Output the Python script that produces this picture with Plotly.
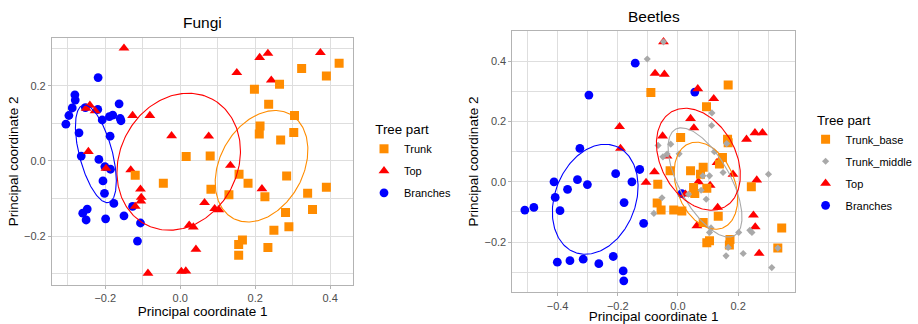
import numpy as np
import plotly.graph_objects as go

# ---------------- Fungi data ----------------
fungi_trunk_x = [0.016, 0.080, -0.120, -0.045, 0.082, 0.157, 0.181, 0.130, 0.226, 0.284, 0.340, 0.390,
                 0.353, 0.281, 0.290, 0.250, 0.166, 0.156, 0.156, 0.234, 0.213, 0.211, 0.268, 0.303,
                 0.305, 0.236, 0.198, 0.265, 0.324, 0.390, 0.424]
fungi_trunk_y = [0.012, 0.013, -0.038, -0.059, -0.075, -0.035, -0.059, -0.090, -0.095, -0.040, -0.086, -0.070,
                 -0.129, -0.137, -0.175, -0.184, -0.210, -0.222, -0.251, -0.230, 0.093, 0.072, 0.056, 0.076,
                 0.121, 0.151, 0.191, 0.204, 0.246, 0.226, 0.260]

fungi_top_x = [-0.150, -0.251, -0.241, -0.227, -0.245, -0.198, -0.127, -0.081, -0.023, 0.076, -0.132,
               -0.106, -0.104, -0.105, -0.120, 0.065, 0.092, 0.103, 0.024, 0.035, 0.042, -0.086, 0.003,
               0.015, 0.134, 0.218, 0.151, 0.212, 0.234, 0.243, 0.374]
fungi_top_y = [0.300, 0.140, 0.148, 0.133, 0.025, -0.020, 0.121, 0.121, 0.067, 0.066, -0.024,
               -0.075, -0.097, -0.107, -0.121, -0.111, -0.127, -0.130, -0.171, -0.176, -0.235, -0.299, -0.294,
               -0.293, -0.012, -0.074, 0.235, 0.275, 0.286, 0.215, 0.288]

fungi_branches_x = [-0.219, -0.281, -0.280, -0.288, -0.297, -0.305, -0.270, -0.264, -0.217, -0.253, -0.220,
                    -0.208, -0.189, -0.180, -0.163, -0.160, -0.158, -0.187, -0.201, -0.186, -0.206, -0.202,
                    -0.177, -0.248, -0.260, -0.251, -0.199, -0.150, -0.127, -0.106, -0.114]
fungi_branches_y = [0.222, 0.176, 0.162, 0.141, 0.121, 0.098, 0.075, 0.013, 0.004, 0.142, 0.137,
                    0.109, 0.118, 0.122, 0.152, 0.113, 0.107, 0.066, -0.015, -0.022, -0.053, -0.086,
                    -0.113, -0.128, -0.139, -0.157, -0.154, -0.146, -0.121, -0.165, -0.213]

# ---------------- Beetles data ----------------
beetles_base_x = [0.167, -0.090, 0.095, 0.009, 0.165, 0.167, -0.026, 0.042, 0.084, 0.075, 0.148, 0.138,
                  -0.067, 0.052, 0.056, 0.096, -0.069, -0.056, -0.014, 0.013, 0.134, 0.084, 0.173, 0.171,
                  0.096, 0.105, 0.244, 0.345, 0.332]
beetles_base_y = [0.322, 0.297, 0.249, 0.147, 0.141, 0.130, 0.037, 0.037, 0.048, 0.025, 0.081, 0.059,
                  -0.008, -0.019, -0.039, -0.021, -0.070, -0.094, -0.094, -0.097, -0.114, -0.135, -0.192, -0.210,
                  -0.202, -0.196, -0.016, -0.153, -0.220]

beetles_middle_x = [-0.048, -0.102, 0.113, 0.112, -0.066, -0.024, -0.050, -0.036, 0.004, 0.121, 0.162,
                    0.150, 0.083, 0.105, 0.077, 0.094, 0.035, -0.053, -0.080, 0.110, 0.105, 0.202, 0.239,
                    0.246, 0.301, 0.167, 0.160, 0.217, 0.312, 0.332]
beetles_middle_y = [0.465, 0.408, 0.229, 0.187, 0.121, 0.125, 0.083, 0.092, 0.093, 0.100, 0.127,
                    0.031, 0.020, 0.020, -0.028, -0.058, -0.041, -0.053, -0.105, -0.153, -0.168, -0.168, -0.161,
                    -0.168, 0.025, -0.218, -0.246, -0.238, -0.285, -0.220]

beetles_top_x = [-0.048, -0.076, -0.045, 0.066, 0.119, -0.194, -0.191, 0.042, 0.053, -0.051, -0.078,
                 -0.106, -0.036, 0.025, 0.068, 0.107, 0.132, 0.063, 0.251, 0.257, 0.262, 0.270, 0.228,
                 0.256, 0.281, 0.183, 0.130]
beetles_top_y = [0.465, 0.360, 0.357, 0.309, 0.276, 0.183, 0.111, 0.210, 0.179, 0.152, 0.033,
                 -0.002, 0.085, -0.041, 0.000, -0.012, -0.085, -0.146, -0.111, -0.150, 0.006, -0.238, 0.141,
                 0.163, 0.163, 0.025, 0.064]

beetles_branches_x = [-0.142, -0.296, 0.056, -0.326, -0.412, -0.408, -0.392, -0.509, -0.479, -0.367, -0.334,
                      -0.301, -0.207, -0.153, -0.127, -0.179, -0.114, -0.401, -0.359, -0.315, -0.263, -0.215,
                      -0.182, -0.180, 0.013]
beetles_branches_y = [0.394, 0.288, 0.298, 0.111, 0.000, -0.052, -0.096, -0.094, -0.085, -0.025, 0.007,
                      -0.009, 0.027, 0.000, 0.041, -0.069, -0.138, -0.267, -0.262, -0.257, -0.272, -0.248,
                      -0.296, -0.329, -0.039]

# ---------------- Ellipse parameters (center x, center y, semi-major, semi-minor, angle deg) ----------------
fungi_ellipse_groups = ["Trunk", "Top", "Branches"]
fungi_ellipse_cx = [0.217, -0.004, -0.225]
fungi_ellipse_cy = [-0.014, -0.002, 0.019]
fungi_ellipse_a = [0.158, 0.189, 0.134]
fungi_ellipse_b = [0.111, 0.157, 0.044]
fungi_ellipse_angle = [61.0, 61.6, -75.2]

beetles_ellipse_groups = ["Trunk_base", "Trunk_middle", "Top", "Branches"]
beetles_ellipse_cx = [0.093, 0.090, 0.068, -0.275]
beetles_ellipse_cy = [-0.013, -0.002, 0.075, -0.058]
beetles_ellipse_a = [0.151, 0.202, 0.181, 0.189]
beetles_ellipse_b = [0.0965, 0.085, 0.124, 0.134]
beetles_ellipse_angle = [-68.3, -61.0, -61.0, 68.7]

COLORS = {"Trunk": "#FF8C00", "Trunk_base": "#FF8C00", "Trunk_middle": "#A9A9A9",
          "Top": "#FF0000", "Branches": "#0000FF"}
SYMBOLS = {"Trunk": "square", "Trunk_base": "square", "Trunk_middle": "diamond",
           "Top": "triangle-up", "Branches": "circle"}
SIZES = {"Trunk": 9, "Trunk_base": 9, "Trunk_middle": 5.5, "Top": 9.5, "Branches": 8.8}

FONT = "Liberation Sans, Arial, Helvetica, sans-serif"


def ellipse_path(cx, cy, a, b, ang):
    t = np.linspace(0, 2 * np.pi, 240)
    p = np.deg2rad(ang)
    x = cx + a * np.cos(t) * np.cos(p) - b * np.sin(t) * np.sin(p)
    y = cy + a * np.cos(t) * np.sin(p) + b * np.sin(t) * np.cos(p)
    return x, y


fig = go.Figure()

# ---- Fungi points (draw order: Branches, Top, Trunk) ----
fungi_series = [("Branches", fungi_branches_x, fungi_branches_y, 3),
                ("Top", fungi_top_x, fungi_top_y, 2),
                ("Trunk", fungi_trunk_x, fungi_trunk_y, 1)]
for name, xs, ys, rank in fungi_series:
    fig.add_trace(go.Scatter(x=xs, y=ys, mode="markers", name=name,
                             marker=dict(color=COLORS[name], symbol=SYMBOLS[name], size=SIZES[name],
                                         line=dict(width=0)),
                             xaxis="x", yaxis="y", legend="legend", legendrank=rank,
                             legendgroup="f" + name))
for i, g in enumerate(fungi_ellipse_groups):
    ex, ey = ellipse_path(fungi_ellipse_cx[i], fungi_ellipse_cy[i], fungi_ellipse_a[i],
                          fungi_ellipse_b[i], fungi_ellipse_angle[i])
    fig.add_trace(go.Scatter(x=ex, y=ey, mode="lines", line=dict(color=COLORS[g], width=1.1),
                             showlegend=False, hoverinfo="skip", xaxis="x", yaxis="y"))

# ---- Beetles points (draw order: Branches, Top, Trunk_base, Trunk_middle) ----
beetles_series = [("Branches", beetles_branches_x, beetles_branches_y, 4),
                  ("Top", beetles_top_x, beetles_top_y, 3),
                  ("Trunk_base", beetles_base_x, beetles_base_y, 1),
                  ("Trunk_middle", beetles_middle_x, beetles_middle_y, 2)]
for name, xs, ys, rank in beetles_series:
    fig.add_trace(go.Scatter(x=xs, y=ys, mode="markers", name=name,
                             marker=dict(color=COLORS[name], symbol=SYMBOLS[name], size=SIZES[name],
                                         line=dict(width=0)),
                             xaxis="x2", yaxis="y2", legend="legend2", legendrank=rank,
                             legendgroup="b" + name))
for i, g in enumerate(beetles_ellipse_groups):
    ex, ey = ellipse_path(beetles_ellipse_cx[i], beetles_ellipse_cy[i], beetles_ellipse_a[i],
                          beetles_ellipse_b[i], beetles_ellipse_angle[i])
    fig.add_trace(go.Scatter(x=ex, y=ey, mode="lines", line=dict(color=COLORS[g], width=1.1),
                             showlegend=False, hoverinfo="skip", xaxis="x2", yaxis="y2"))

W, H = 918, 324
GRID = "#DEDEDE"
BORDER = "#B3B3B3"


def axis_style(rng, domain, anchor, title):
    return dict(range=rng, domain=domain, anchor=anchor, dtick=0.2, tick0=0, tickformat=".1f",
                showgrid=True, gridcolor=GRID, gridwidth=1, zeroline=False,
                minor=dict(dtick=0.1, showgrid=True, gridcolor=GRID, gridwidth=0.6, ticks=""),
                showline=True, mirror=True, linecolor=BORDER, linewidth=1.2,
                ticks="outside", ticklen=3, tickcolor=BORDER, tickwidth=0.6,
                tickfont=dict(family=FONT, size=11, color="#4D4D4D"),
                title=dict(text=title, font=dict(family=FONT, size=13.5, color="black"), standoff=2),
                automargin=False)


LEGEND_TITLE = "\u2002\u2009Tree part"

fig.update_layout(
    width=W, height=H, margin=dict(l=0, r=0, t=0, b=0),
    paper_bgcolor="white", plot_bgcolor="white",
    font=dict(family=FONT, color="black"),
    xaxis=axis_style([-0.342, 0.462], [52.3 / W, 355.3 / W], "y", "Principal coordinate 1"),
    yaxis=axis_style([-0.330, 0.328], [1 - 285 / H, 1 - 37.7 / H], "x", "Principal coordinate 2"),
    xaxis2=axis_style([-0.550, 0.389], [515.3 / W, 799.3 / W], "y2", "Principal coordinate 1"),
    yaxis2=axis_style([-0.367, 0.502], [1 - 292.3 / H, 1 - 30.7 / H], "x2", "Principal coordinate 2"),
    legend=dict(x=366 / W, y=1 - 117 / H, xanchor="left", yanchor="top",
                title=dict(text=LEGEND_TITLE, font=dict(family=FONT, size=13.3, color="black")),
                font=dict(family=FONT, size=11, color="black"), bgcolor="rgba(0,0,0,0)",
                tracegroupgap=3, itemsizing="trace"),
    legend2=dict(x=810 / W, y=1 - 107.5 / H, xanchor="left", yanchor="top",
                 title=dict(text=LEGEND_TITLE, font=dict(family=FONT, size=13.3, color="black")),
                 font=dict(family=FONT, size=11, color="black"), bgcolor="rgba(0,0,0,0)",
                 tracegroupgap=3, itemsizing="trace"),
    annotations=[
        dict(text="Fungi", x=(52.3 + 355.3) / 2 / W, y=1 - 23 / H, xref="paper", yref="paper",
             showarrow=False, font=dict(family=FONT, size=15.5, color="black"), xanchor="center",
             yanchor="middle"),
        dict(text="Beetles", x=(515.3 + 799.3) / 2 / W, y=1 - 16 / H, xref="paper", yref="paper",
             showarrow=False, font=dict(family=FONT, size=15.5, color="black"), xanchor="center",
             yanchor="middle"),
    ],
)

fig.write_html("out.html", config={"displayModeBar": False},
               post_script="document.body.style.margin='0';document.body.style.padding='0';"
                           "document.documentElement.style.overflow='hidden';")
